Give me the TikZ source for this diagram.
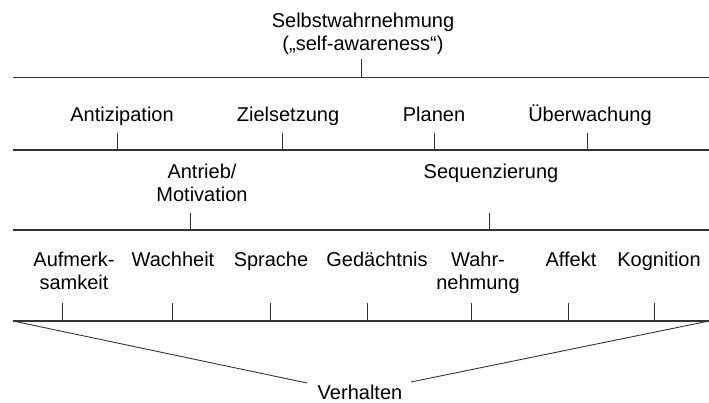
\documentclass[tikz,border=0pt]{standalone}
\usepackage{fontspec}
\setmainfont{Liberation Sans}
\begin{document}
\begin{tikzpicture}[x=1pt,y=-1pt,
  lbl/.style={anchor=base,inner sep=0pt,align=center,font=\fontsize{20}{23}\selectfont},
  hline/.style={draw=black!80,line width=1.2pt},
  tick/.style={draw=black!80,line width=0.9pt}]
\useasboundingbox (0,0) rectangle (709,403);
% labels (multi-line nodes: base = baseline of last line)
\node[lbl] (sw) at (363,51) {Selbstwahrnehmung\\(„self-awareness“)};
\node[lbl] (ant) at (122,122) {Antizipation};
\node[lbl] (ziel) at (288,122) {Zielsetzung};
\node[lbl] (plan) at (434,122) {Planen};
\node[lbl] (ueb) at (590,122) {Überwachung};
\node[lbl] (mot) at (202,202) {Antrieb/\\Motivation};
\node[lbl] (seq) at (491,179) {Sequenzierung};
\node[lbl] (auf) at (74,290) {Aufmerk-\\samkeit};
\node[lbl] (wach) at (173,267) {Wachheit};
\node[lbl] (spr) at (271,267) {Sprache};
\node[lbl] (ged) at (377,267) {Gedächtnis};
\node[lbl] (wahr) at (478,290) {Wahr-\\nehmung};
\node[lbl] (aff) at (571,267) {Affekt};
\node[lbl] (kog) at (659,267) {Kognition};
\node[lbl] (verh) at (360,399) {Verhalten};
% horizontal lines
\coordinate (l1a) at (13,77.5);  \coordinate (l1b) at (709,77.5);
\coordinate (l2a) at (13,150);   \coordinate (l2b) at (709,150);
\coordinate (l3a) at (13,230);   \coordinate (l3b) at (709,230);
\coordinate (l4a) at (13,321);   \coordinate (l4b) at (709,321);
\draw[hline] (l1a) -- (l1b);
\draw[hline] (l2a) -- (l2b);
\draw[hline] (l3a) -- (l3b);
\draw[hline] (l4a) -- (l4b);
% ticks
\draw[tick] (361.7,59) -- (361.7,77.5);
\foreach \x in {117,282,434,587} \draw[tick] (\x,132.7) -- (\x,150);
\foreach \x in {190.7,489.7} \draw[tick] (\x,212.7) -- (\x,230);
\foreach \x in {62.7,172.3,270,367,471,568,654} \draw[tick] (\x,303) -- (\x,321);
% converging lines
\coordinate (vl) at (307,383);
\coordinate (vr) at (411,382);
\draw[tick] (l4a) -- (vl);
\draw[tick] (vr) -- (l4b);
\end{tikzpicture}
\end{document}
